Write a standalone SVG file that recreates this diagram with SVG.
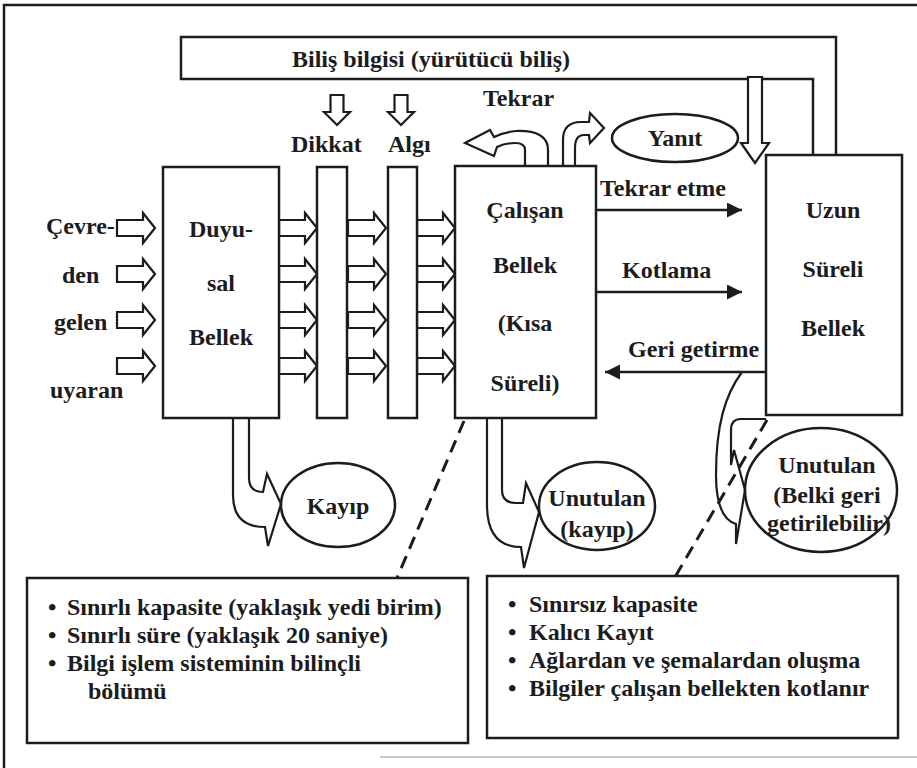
<svg xmlns="http://www.w3.org/2000/svg" width="917" height="768" viewBox="0 0 917 768">
<style>
text{font-family:'Liberation Serif','DejaVu Serif',serif;font-size:24px;font-weight:700;fill:#1c1c1c}
.m{text-anchor:middle}
.box{fill:#fff;stroke:#1c1c1c;stroke-width:2.5}
.ln{fill:none;stroke:#1c1c1c;stroke-width:2.5}
.hol{fill:#fff;stroke:#1c1c1c;stroke-width:2.2;stroke-linejoin:miter}
.dash{fill:none;stroke:#1c1c1c;stroke-width:3;stroke-dasharray:13 8}
.ell{fill:none;stroke:#1c1c1c;stroke-width:2.5}
</style>
<defs>
<path id="ha" d="M0,-8 H26 V-15 L38,0 L26,15 V8 H0 Z"/>
<path id="hd" d="M-6.500,0 V17 H-13 L0,30 L13,17 H6.500 V0 Z"/>
<marker id="ah" viewBox="0 0 10 10" refX="10" refY="5" markerWidth="6" markerHeight="6" orient="auto" markerUnits="strokeWidth">
<path d="M0,0 L10,5 L0,10 Z" fill="#1c1c1c"/>
</marker>
</defs>
<rect width="917" height="768" fill="#fff"/>
<g id="frame">
<path d="M917,5 H4 V768" class="ln" stroke-width="2"/>
<path d="M380,757 H917" fill="none" stroke="#bbb" stroke-width="1.5"/>
</g>

<g id="bilis">
<path d="M813,155 V79 H181 V37 H836 V155" class="ln"/>
<text x="292" y="67">Biliş bilgisi (yürütücü biliş)</text>
</g>

<g id="connectors">
<use href="#hd" x="337" y="95" class="hol"/>
<use href="#hd" x="401" y="95" class="hol"/>
<path d="M748,77 V143 H741 L755,163 L769,143 H762 V77 Z" class="hol"/>
<use href="#ha" x="117" y="228" class="hol"/>
<use href="#ha" x="117" y="274" class="hol"/>
<use href="#ha" x="117" y="320" class="hol"/>
<use href="#ha" x="117" y="366" class="hol"/>
<use href="#ha" x="279" y="228" class="hol"/>
<use href="#ha" x="279" y="274" class="hol"/>
<use href="#ha" x="279" y="320" class="hol"/>
<use href="#ha" x="279" y="366" class="hol"/>
<use href="#ha" x="348" y="228" class="hol"/>
<use href="#ha" x="348" y="274" class="hol"/>
<use href="#ha" x="348" y="320" class="hol"/>
<use href="#ha" x="348" y="366" class="hol"/>
<use href="#ha" x="417" y="228" class="hol"/>
<use href="#ha" x="417" y="274" class="hol"/>
<use href="#ha" x="417" y="320" class="hol"/>
<use href="#ha" x="417" y="366" class="hol"/>
<path d="M525,166 V150 Q525,143 515,143 Q505,143 497,147 L494,156 L465,143 L490,130 L494,137 Q504,132 516,131 Q548,130 548,150 V166" class="hol"/>
<path d="M563,166 V140 Q563,122 581,122 H589 L590,113 L604,128 L590,143 L589,135 H584 Q575,135 575,148 V166" class="hol"/>
<path d="M597,210 H742" class="ln" marker-end="url(#ah)"/>
<path d="M597,292 H742" class="ln" marker-end="url(#ah)"/>
<path d="M766,372 H605" class="ln" marker-end="url(#ah)"/>
<path d="M249,418 V478 Q249,492 263,492 L267,474 L281,504 L268,546 L265,527 Q233,527 233,495 V418" class="hol"/>
<path d="M502,418 V490 Q502,503 516,503 H523 L526,483 L539,512 L524,568 L521,547 Q487,547 487,505 V418" class="hol"/>
<path d="M766,419 H741 Q731,419 731,430 V465 L734,450 L745,490 L736,544 L736,524 Q716,518 716,475 C716,425 725,395 742,372" class="hol"/>
<path d="M464,421 L397,578" class="dash"/>
<path d="M767,420 L675,577" class="dash"/>
</g>

<g id="labels">
<text x="291" y="152">Dikkat</text>
<text x="388" y="152">Algı</text>
<text x="483" y="106">Tekrar</text>
<text x="600" y="196">Tekrar etme</text>
<text x="622" y="278">Kotlama</text>
<text x="628" y="357">Geri getirme</text>
<text x="46" y="234">Çevre-</text>
<text x="62" y="283">den</text>
<text x="54" y="330">gelen</text>
<text x="50" y="398">uyaran</text>
</g>

<g id="duyusal">
<rect x="163" y="167" width="116" height="251" class="box"/>
<text class="m" x="221" y="237">Duyu-</text>
<text class="m" x="221" y="291">sal</text>
<text class="m" x="221" y="345">Bellek</text>
</g>
<g id="dikkat"><rect x="317" y="167" width="30" height="251" class="box"/></g>
<g id="algi"><rect x="388" y="167" width="29" height="251" class="box"/></g>

<g id="calisan">
<rect x="455" y="166" width="141" height="252" class="box"/>
<text class="m" x="525" y="218">Çalışan</text>
<text class="m" x="525" y="273">Bellek</text>
<text class="m" x="525" y="331">(Kısa</text>
<text class="m" x="525" y="391">Süreli)</text>
</g>

<g id="uzun">
<rect x="766" y="155" width="136" height="260" class="box"/>
<text class="m" x="833" y="218">Uzun</text>
<text class="m" x="833" y="277">Süreli</text>
<text class="m" x="833" y="336">Bellek</text>
</g>

<g id="yanit">
<ellipse cx="675" cy="138" rx="63" ry="24" class="ell"/>
<text class="m" x="675" y="146">Yanıt</text>
</g>

<g id="kayip">
<ellipse cx="338" cy="505" rx="57" ry="42" class="ell"/>
<text class="m" x="338" y="514">Kayıp</text>
</g>

<g id="unutulan1">
<ellipse cx="597" cy="506" rx="58" ry="44" class="ell"/>
<text class="m" x="597" y="506">Unutulan</text>
<text class="m" x="597" y="537">(kayıp)</text>
</g>

<g id="unutulan2">
<ellipse cx="821" cy="490" rx="76" ry="62" class="ell"/>
<text class="m" x="827" y="473">Unutulan</text>
<text class="m" x="827" y="503">(Belki geri</text>
<text class="m" x="829" y="531">getirilebilir)</text>
</g>

<g id="ozellik1">
<rect x="27" y="578" width="441" height="165" class="box"/>
<text x="48" y="615">•</text>
<text x="67" y="615">Sınırlı kapasite (yaklaşık yedi birim)</text>
<text x="48" y="643">•</text>
<text x="67" y="643">Sınırlı süre (yaklaşık 20 saniye)</text>
<text x="48" y="671">•</text>
<text x="67" y="671">Bilgi işlem sisteminin bilinçli</text>
<text x="88" y="699">bölümü</text>
</g>

<g id="ozellik2">
<rect x="487" y="576" width="411" height="162" class="box"/>
<text x="508" y="612">•</text>
<text x="529" y="612">Sınırsız kapasite</text>
<text x="508" y="640">•</text>
<text x="529" y="640">Kalıcı Kayıt</text>
<text x="508" y="668">•</text>
<text x="529" y="668">Ağlardan ve şemalardan oluşma</text>
<text x="508" y="696">•</text>
<text x="529" y="696">Bilgiler çalışan bellekten kotlanır</text>
</g>
</svg>
